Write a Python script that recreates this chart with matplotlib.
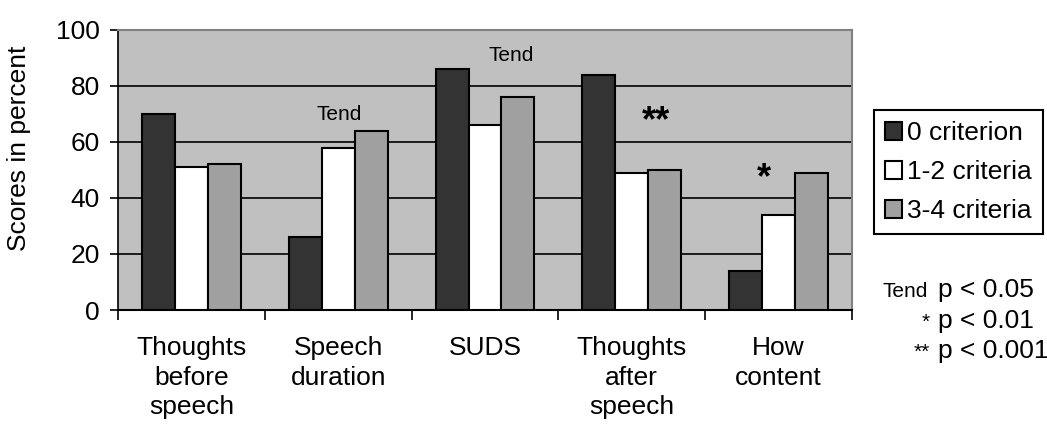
import numpy as np
import matplotlib
matplotlib.use('Agg')
import matplotlib.pyplot as plt

plt.rcParams['font.family'] = ['Liberation Sans', 'DejaVu Sans']

categories = ['Thoughts\nbefore\nspeech', 'Speech\nduration', 'SUDS',
              'Thoughts\nafter\nspeech', 'How\ncontent']
series_names = ['0 criterion', '1-2 criteria', '3-4 criteria']
zero_crit = [70, 26, 86, 84, 14]
one_two_crit = [51, 58, 66, 49, 34]
three_four_crit = [52, 64, 76, 50, 49]
colors = ['#333333', '#ffffff', '#a0a0a0']

# significance marks: (group index, x offset, baseline y, text)
marks = [(1, 0.01, 68, 'Tend'), (2, 0.18, 89, 'Tend'),
         (3, 0.165, 64, '**'), (4, -0.1, 43.5, '*')]

fig = plt.figure(figsize=(10.47, 4.26), dpi=100)
ax = fig.add_axes([0.1127, 0.2723, 0.7010, 0.6573])
ax.set_facecolor('#c0c0c0')

x = np.arange(len(categories))
w = 0.224
for i, (vals, name) in enumerate(zip([zero_crit, one_two_crit, three_four_crit], series_names)):
    ax.bar(x + (i - 1) * w, vals, w, color=colors[i], edgecolor='black',
           linewidth=1.5, label=name, zorder=3)

ax.set_ylim(0, 100)
ax.set_xlim(-0.5, len(categories) - 0.5)
ax.set_yticks(range(0, 101, 20))
for yv in range(20, 100, 20):
    ax.axhline(yv, color='black', linewidth=1.2, zorder=1)

ax.set_xticks(x)
ax.set_xticklabels(categories, fontsize=19, linespacing=1.28)
ax.tick_params(axis='x', length=0, pad=19)
ax.set_xticks(np.arange(-0.5, len(categories)), minor=True)
ax.tick_params(axis='x', which='minor', length=7, width=1.2, direction='out')
ax.tick_params(axis='y', labelsize=19, length=6, width=1.2, direction='out', pad=7)

ax.spines['top'].set_color('#808080')
ax.spines['right'].set_color('#808080')
ax.spines['top'].set_linewidth(1.5)
ax.spines['right'].set_linewidth(1.5)
ax.spines['left'].set_linewidth(1.2)
ax.spines['bottom'].set_linewidth(1.5)

ax.set_ylabel('Scores in percent', fontsize=19)
ax.yaxis.set_label_coords(-0.118, 0.579)

for gi, dx, yv, txt in marks:
    if txt == 'Tend':
        ax.text(gi + dx, yv, txt, ha='center', va='baseline', fontsize=15, zorder=4)
    else:
        ax.text(gi + dx, yv, txt, ha='center', va='baseline', fontsize=26,
                fontweight='bold', zorder=4)

leg = ax.legend(loc='upper left', bbox_to_anchor=(0.8348, 0.7418),
                bbox_transform=fig.transFigure, fontsize=19,
                frameon=True, fancybox=False, edgecolor='black', framealpha=1,
                handlelength=0.64, handleheight=0.64, handletextpad=0.19,
                borderpad=0.42, labelspacing=0.57, borderaxespad=0)
leg.get_frame().set_linewidth(1.5)

fig.text(0.843, 0.303, 'Tend', fontsize=15, ha='left', va='baseline')
fig.text(0.896, 0.303, 'p < 0.05', fontsize=19, ha='left', va='baseline')
fig.text(0.888, 0.230, '*', fontsize=15, ha='right', va='baseline')
fig.text(0.896, 0.230, 'p < 0.01', fontsize=19, ha='left', va='baseline')
fig.text(0.888, 0.160, '**', fontsize=15, ha='right', va='baseline')
fig.text(0.896, 0.160, 'p < 0.001', fontsize=19, ha='left', va='baseline')

plt.savefig('out.png', dpi=100)
